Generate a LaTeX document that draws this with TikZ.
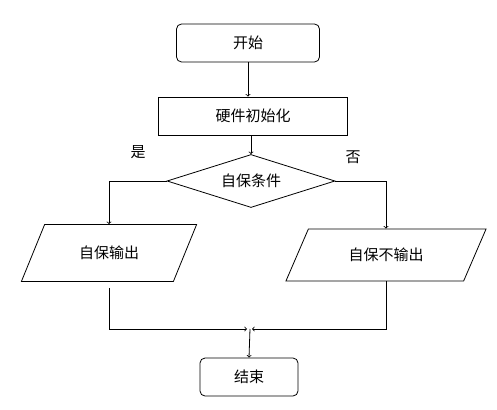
\documentclass[tikz,border=0pt]{standalone}
\usepackage{fontspec}
\newfontfamily\cjk{Noto Sans CJK SC}
\usetikzlibrary{shapes.geometric}

\begin{document}
\begin{tikzpicture}[x=1pt,y=-1pt,
		font=\cjk\fontsize{15}{17}\selectfont,
		term/.style={draw,thick,rounded corners=5pt,minimum height=38pt,inner sep=0pt},
		proc/.style={draw,thick,minimum height=38pt,inner sep=0pt},
		cond/.style={draw,thick,diamond,aspect=3.2,minimum width=168pt,minimum height=53pt,inner sep=0pt},
		io/.style={draw,thick,trapezium,trapezium left angle=52,trapezium right angle=128,trapezium stretches=true,inner sep=0pt}]
			\useasboundingbox (0,0) rectangle (497,409);

			\node[term,minimum width=143pt] (start) at (248,43) {开始};
			\node[proc,minimum width=189pt] (init) at (253,116) {硬件初始化};
			\node[cond] (check) at (251,181) {自保条件};
			\node[io,minimum width=176pt,minimum height=57pt] (outyes) at (109,253) {自保输出};
			\node[io,minimum width=201pt,minimum height=52pt] (outno) at (386,255) {自保不输出};
			\node[term,minimum width=98pt] (stop) at (249,377) {结束};

			\node (yes) at (138,152) {是};
			\node (no) at (353,157) {否};

			\coordinate (join) at (250,329);

			\draw[thick,->] (start) -- (start |- init.north);
			\draw[thick,->] (init.south -| check.north) -- (check.north);
			\draw[thick,->] (check.west) -| (outyes.north);
			\draw[thick,->] (check.east) -| (outno.north);
			\draw[thick,->,shorten <=6pt] (outyes.south) |- ([xshift=-3pt]join);
			\draw[thick,->] (outno.south) |- ([xshift=2pt]join);
			\draw[thick,->] (join) -- (stop.north);
		\end{tikzpicture}
\end{document}
